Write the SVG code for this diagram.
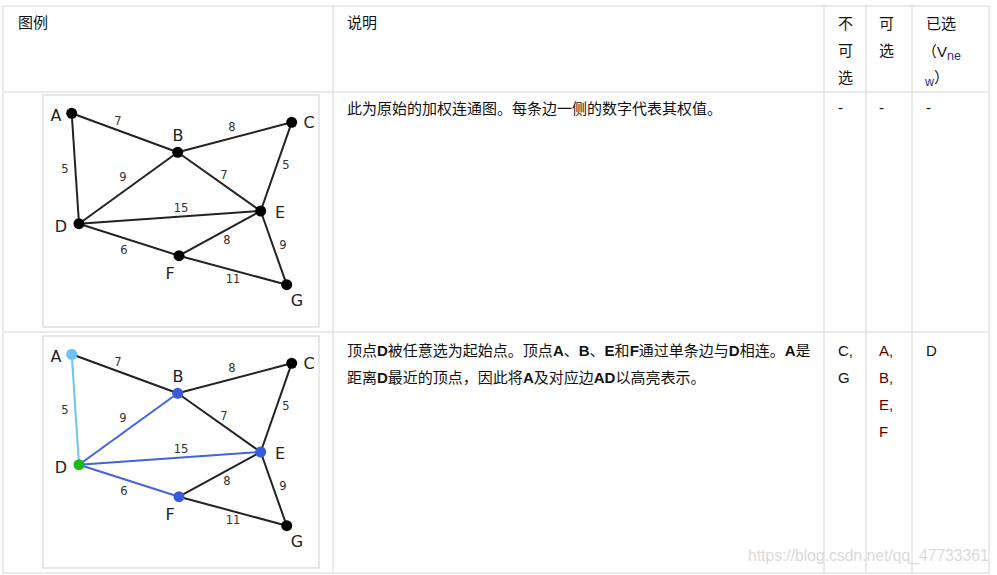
<svg xmlns="http://www.w3.org/2000/svg" width="997" height="575" viewBox="0 0 997 575">
<style>
.grid{stroke:#e3e3e3;stroke-width:1.5;fill:none}
.t{font-family:"Liberation Sans","Noto Sans CJK SC",sans-serif;font-size:15px;fill:#111}
.red{fill:#5a0000}
.sub{font-size:12.5px;fill:#2a2a88}
.box{fill:#fff;stroke:#d8d8d8;stroke-width:1.2}
.e{stroke:#222;stroke-width:2;fill:none}
.eb{stroke:#4163dc;stroke-width:2;fill:none}
.el{stroke:#6ec3f5;stroke-width:2;fill:none}
.n{fill:#000}
.nb{fill:#3a5bd9}
.nl{fill:#6ec3f5}
.ng{fill:#1cb81c}
.lab{font-family:"DejaVu Sans",sans-serif;font-size:16px;fill:#222;text-anchor:middle}
.w{font-family:"DejaVu Sans",sans-serif;font-size:11.5px;fill:#333;text-anchor:middle}
.wm{font-family:"Liberation Sans",sans-serif;font-size:15.7px;fill:#dadada}
</style>
<rect width="997" height="575" fill="#fff"/>
<g id="table">
<rect class="grid" x="3" y="6" width="986" height="567"/>
<line class="grid" x1="3" y1="92" x2="989" y2="92"/>
<line class="grid" x1="3" y1="332" x2="989" y2="332"/>
<line class="grid" x1="333" y1="6" x2="333" y2="573"/>
<line class="grid" x1="824" y1="6" x2="824" y2="573"/>
<line class="grid" x1="866" y1="6" x2="866" y2="573"/>
<line class="grid" x1="912" y1="6" x2="912" y2="573"/>
</g>
<g id="header">
<text class="t" x="18" y="28">图例</text>
<text class="t" x="347" y="28">说明</text>
<text class="t" x="838" y="29">不</text>
<text class="t" x="838" y="56">可</text>
<text class="t" x="838" y="83">选</text>
<text class="t" x="879" y="29">可</text>
<text class="t" x="879" y="56">选</text>
<text class="t" x="926" y="29">已选</text>
<text class="t" x="922" y="57">（V<tspan class="sub" dy="3">ne</tspan></text>
<text class="t" x="925" y="86"><tspan class="sub">w</tspan><tspan dy="-3">）</tspan></text>
</g>
<g id="row1-text">
<text class="t" x="347" y="114">此为原始的加权连通图。每条边一侧的数字代表其权值。</text>
<text class="t" x="838" y="113">-</text>
<text class="t" x="879" y="113">-</text>
<text class="t" x="926" y="113">-</text>
</g>
<g id="row2-text">
<text class="t" x="347" y="356">顶点<tspan font-weight="bold">D</tspan>被任意选为起始点。顶点<tspan font-weight="bold">A</tspan>、<tspan font-weight="bold">B</tspan>、<tspan font-weight="bold">E</tspan>和<tspan font-weight="bold">F</tspan>通过单条边与<tspan font-weight="bold">D</tspan>相连。<tspan font-weight="bold">A</tspan>是</text>
<text class="t" x="347" y="383">距离<tspan font-weight="bold">D</tspan>最近的顶点，因此将<tspan font-weight="bold">A</tspan>及对应边<tspan font-weight="bold">AD</tspan>以高亮表示。</text>
<text class="t" x="838" y="356">C,</text>
<text class="t" x="838" y="383">G</text>
<text class="t red" x="879" y="356">A,</text>
<text class="t red" x="879" y="383">B,</text>
<text class="t red" x="879" y="410">E,</text>
<text class="t red" x="879" y="437">F</text>
<text class="t" x="926" y="356">D</text>
</g>
<g id="graph1">
<rect class="box" x="43" y="95" width="276" height="232"/>
<g id="g1-connectors">
<line class="e" x1="71.7" y1="113.3" x2="177.7" y2="152.3"/>
<line class="e" x1="71.7" y1="113.3" x2="79" y2="223.7"/>
<line class="e" x1="177.7" y1="152.3" x2="291.7" y2="122.3"/>
<line class="e" x1="177.7" y1="152.3" x2="79" y2="223.7"/>
<line class="e" x1="177.7" y1="152.3" x2="260.7" y2="211"/>
<line class="e" x1="291.7" y1="122.3" x2="260.7" y2="211"/>
<line class="e" x1="79" y1="223.7" x2="260.7" y2="211"/>
<line class="e" x1="79" y1="223.7" x2="179" y2="255.7"/>
<line class="e" x1="179" y1="255.7" x2="260.7" y2="211"/>
<line class="e" x1="179" y1="255.7" x2="286.7" y2="284.7"/>
<line class="e" x1="260.7" y1="211" x2="286.7" y2="284.7"/>
<text class="w" x="118" y="125">7</text>
<text class="w" x="232" y="131">8</text>
<text class="w" x="65" y="173">5</text>
<text class="w" x="123" y="181">9</text>
<text class="w" x="224" y="179">7</text>
<text class="w" x="286" y="169">5</text>
<text class="w" x="181" y="212">15</text>
<text class="w" x="227" y="244">8</text>
<text class="w" x="124" y="254">6</text>
<text class="w" x="283" y="249">9</text>
<text class="w" x="233" y="283">11</text>
</g>
<g id="g1-A"><circle class="n" cx="71.7" cy="113.3" r="5.5"/><text class="lab" x="56" y="121">A</text></g>
<g id="g1-B"><circle class="n" cx="177.7" cy="152.3" r="5.5"/><text class="lab" x="178" y="141">B</text></g>
<g id="g1-C"><circle class="n" cx="291.7" cy="122.3" r="5.5"/><text class="lab" x="309" y="128">C</text></g>
<g id="g1-D"><circle class="n" cx="79" cy="223.7" r="5.5"/><text class="lab" x="61" y="232">D</text></g>
<g id="g1-E"><circle class="n" cx="260.7" cy="211" r="5.5"/><text class="lab" x="280" y="218">E</text></g>
<g id="g1-F"><circle class="n" cx="179" cy="255.7" r="5.5"/><text class="lab" x="170" y="279">F</text></g>
<g id="g1-G"><circle class="n" cx="286.7" cy="284.7" r="5.5"/><text class="lab" x="297" y="306">G</text></g>
</g>
<g id="graph2" transform="translate(0,241)">
<rect class="box" x="43" y="95" width="276" height="232"/>
<g id="g2-connectors">
<line class="e" x1="71.7" y1="113.3" x2="177.7" y2="152.3"/>
<line class="el" x1="71.7" y1="113.3" x2="79" y2="223.7"/>
<line class="e" x1="177.7" y1="152.3" x2="291.7" y2="122.3"/>
<line class="eb" x1="177.7" y1="152.3" x2="79" y2="223.7"/>
<line class="e" x1="177.7" y1="152.3" x2="260.7" y2="211"/>
<line class="e" x1="291.7" y1="122.3" x2="260.7" y2="211"/>
<line class="eb" x1="79" y1="223.7" x2="260.7" y2="211"/>
<line class="eb" x1="79" y1="223.7" x2="179" y2="255.7"/>
<line class="e" x1="179" y1="255.7" x2="260.7" y2="211"/>
<line class="e" x1="179" y1="255.7" x2="286.7" y2="284.7"/>
<line class="e" x1="260.7" y1="211" x2="286.7" y2="284.7"/>
<text class="w" x="118" y="125">7</text>
<text class="w" x="232" y="131">8</text>
<text class="w" x="65" y="173">5</text>
<text class="w" x="123" y="181">9</text>
<text class="w" x="224" y="179">7</text>
<text class="w" x="286" y="169">5</text>
<text class="w" x="181" y="212">15</text>
<text class="w" x="227" y="244">8</text>
<text class="w" x="124" y="254">6</text>
<text class="w" x="283" y="249">9</text>
<text class="w" x="233" y="283">11</text>
</g>
<g id="g2-A"><circle class="nl" cx="71.7" cy="113.3" r="5.5"/><text class="lab" x="56" y="121">A</text></g>
<g id="g2-B"><circle class="nb" cx="177.7" cy="152.3" r="5.5"/><text class="lab" x="178" y="141">B</text></g>
<g id="g2-C"><circle class="n" cx="291.7" cy="122.3" r="5.5"/><text class="lab" x="309" y="128">C</text></g>
<g id="g2-D"><circle class="ng" cx="79" cy="223.7" r="5.5"/><text class="lab" x="61" y="232">D</text></g>
<g id="g2-E"><circle class="nb" cx="260.7" cy="211" r="5.5"/><text class="lab" x="280" y="218">E</text></g>
<g id="g2-F"><circle class="nb" cx="179" cy="255.7" r="5.5"/><text class="lab" x="170" y="279">F</text></g>
<g id="g2-G"><circle class="n" cx="286.7" cy="284.7" r="5.5"/><text class="lab" x="297" y="306">G</text></g>
</g>
<text class="wm" x="748" y="561">https://blog.csdn.net/qq_47733361</text>
</svg>
